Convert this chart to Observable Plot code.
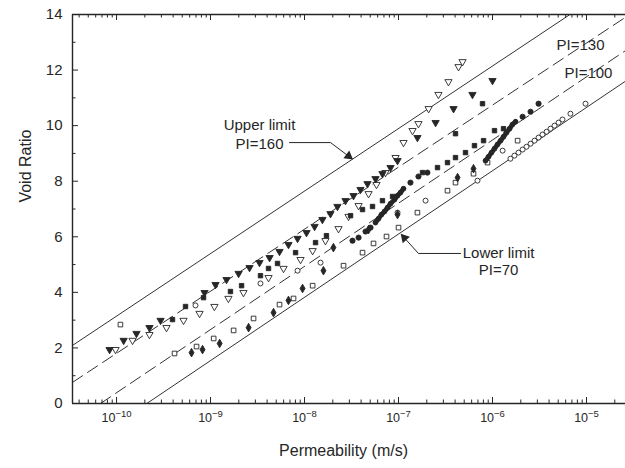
<!DOCTYPE html>
<html>
<head>
<meta charset="utf-8">
<script src="https://cdn.jsdelivr.net/npm/d3@7"></script>
<script src="https://cdn.jsdelivr.net/npm/@observablehq/plot@0.6"></script>
<style>
  html, body { margin: 0; padding: 0; background: #fff; }
  #chart { width: 625px; height: 468px; }
</style>
</head>
<body>
<div id="chart"></div>
<script>
// ---------------- data ----------------
// Permeability k (m/s) and void ratio e for each symbol series

// filled down-pointing triangles
const solidTriK = [8.43e-11,1.19e-10,1.63e-10,2.24e-10,2.94e-10,8.64e-10,1.13e-9,1.48e-9,1.99e-9,2.60e-9,3.32e-9,4.25e-9,5.42e-9,6.75e-9,8.43e-9,1.05e-8,1.28e-8,1.55e-8,1.89e-8,2.24e-8,2.73e-8,3.32e-8,3.94e-8,4.68e-8,5.69e-8,6.75e-8,8.22e-8,9.76e-8,1.59e-7,2.48e-7,3.85e-7,6.12e-7,1.00e-6];
const solidTriE = [1.94,2.27,2.52,2.73,2.99,3.99,4.28,4.46,4.68,4.89,5.07,5.25,5.47,5.72,5.94,6.15,6.37,6.62,6.83,7.09,7.30,7.48,7.70,7.91,8.09,8.27,8.49,8.74,9.57,10.11,10.61,11.12,11.62];

// open down-pointing triangles
const openTriK = [9.76e-11,1.48e-10,2.24e-10,3.40e-10,5.16e-10,7.64e-10,1.10e-9,1.55e-9,2.24e-9,4.14e-9,5.98e-9,9.07e-9,1.22e-8,1.67e-8,2.30e-8,2.94e-8,3.76e-8,4.80e-8,5.83e-8,7.27e-8,9.30e-8,1.13e-7,1.41e-7,1.63e-7,2.09e-7,2.66e-7,3.40e-7,4.35e-7,4.80e-7];
const openTriE = [1.94,2.27,2.48,2.73,2.99,3.24,3.49,3.78,3.99,4.53,4.86,5.18,5.50,5.86,6.29,6.73,7.12,7.55,7.88,8.31,8.85,9.39,9.82,10.07,10.61,11.12,11.58,12.12,12.30];

// filled squares
const solidSqK = [3.94e-10,5.42e-10,8.43e-10,1.63e-9,2.14e-9,3.40e-9,4.14e-9,5.16e-9,8.03e-9,1.31e-8,1.71e-8,3.09e-8,4.14e-8,5.29e-8,6.75e-8,8.64e-8,1.80e-7,2.60e-7,3.32e-7,4.04e-7,5.16e-7,6.43e-7,8.03e-7,1.05e-6,1.31e-6,4.04e-7,7.83e-7];
const solidSqE = [3.02,3.49,3.81,4.03,4.24,4.60,4.86,5.04,5.43,5.79,6.04,6.76,6.98,7.09,7.30,7.45,8.31,8.49,8.67,8.85,9.03,9.28,9.46,9.82,9.89,9.71,10.79];

// open circles
const openCircK = [6.92e-10,3.40e-9,8.43e-9,1.48e-8,9.76e-8,1.94e-7,6.92e-7,1.28e-6,1.55e-6,1.71e-6,1.89e-6,2.09e-6,2.30e-6,2.54e-6,2.80e-6,3.09e-6,3.40e-6,3.76e-6,4.14e-6,4.57e-6,5.04e-6,5.55e-6,6.75e-6,9.76e-6];
const openCircE = [3.53,4.32,4.78,5.07,6.87,7.30,8.02,9.10,8.81,8.92,9.03,9.14,9.24,9.35,9.46,9.57,9.68,9.78,9.89,10.00,10.11,10.22,10.43,10.79];

// open squares
const openSqK = [1.10e-10,4.14e-10,7.10e-10,1.08e-9,1.76e-9,2.87e-9,5.42e-9,7.64e-9,1.22e-8,2.60e-8,4.14e-8,5.42e-8,7.45e-8,1.00e-7,1.59e-7,3.32e-7,4.04e-7,6.28e-7,8.85e-7,1.85e-6];
const openSqE = [2.84,1.80,2.05,2.34,2.63,3.06,3.56,3.78,4.24,4.96,5.43,5.76,6.01,6.33,6.87,7.66,7.95,8.27,8.67,9.46];

// filled diamonds
const solidDiaK = [6.28e-10,8.22e-10,1.25e-9,2.54e-9,4.68e-9,6.75e-9,9.53e-9,1.59e-8,2.03e-8,4.80e-8,9.76e-8,4.25e-7,6.28e-7];
const solidDiaE = [1.83,1.94,2.16,2.73,3.27,3.71,4.14,4.78,5.61,6.26,6.80,8.13,8.45];

// filled circles (isolated readings)
const solidCircK = [3.24e-8,3.76e-8,4.46e-8,5.04e-8,1.34e-7,1.63e-7,2.03e-7,2.09e-6,2.54e-6,3.09e-6];
const solidCircE = [5.86,5.97,6.19,6.33,7.95,8.17,8.31,10.32,10.50,10.79];

// densely sampled tests that print as thick traces
const trace1K = [5.69e-8,6.12e-8,6.59e-8,7.10e-8,7.64e-8,8.22e-8,9.07e-8,9.76e-8,1.05e-7,1.13e-7];
const trace1E = [6.51,6.65,6.80,6.91,7.05,7.19,7.34,7.48,7.59,7.73];
const trace2K = [8.43e-7,9.07e-7,9.76e-7,1.05e-6,1.13e-6,1.22e-6,1.31e-6,1.41e-6,1.52e-6,1.63e-6,1.76e-6];
const trace2E = [8.74,8.88,9.03,9.17,9.32,9.46,9.60,9.75,9.89,10.04,10.14];

// boundary lines (end points)
const upperLimitK = [3.4e-11, 2.6e-5], upperLimitE = [2.09, 15.33];
const pi130K = [3.4e-11, 2.6e-5],      pi130E = [0.76, 13.9];
const pi100K = [6.76e-11, 2.6e-5],     pi100E = [0, 12.7];
const lowerLimitK = [2.1e-10, 2.6e-5], lowerLimitE = [0, 11.6];

// tick labels
const xMajor = [1e-10, 1e-9, 1e-8, 1e-7, 1e-6, 1e-5];
const xExpLabels = ["\u221210", "\u22129", "\u22128", "\u22127", "\u22126", "\u22125"];
const yMajor = [0, 2, 4, 6, 8, 10, 12, 14];
const yMinor = [1, 3, 5, 7, 9, 11, 13];

// annotations
const noteText = ["Upper limit", "PI=160", "PI=130", "PI=100", "Lower limit", "PI=70"];
const noteK = [3.32e-9, 3.32e-9, 8.64e-6, 1.05e-5, 1.16e-6, 1.16e-6];
const noteE = [10.0, 9.35, 12.88, 11.87, 5.40, 4.78];
const upperArrowK = [6.92e-9, 1.89e-8, 3.09e-8], upperArrowE = [9.39, 9.39, 8.85];
const lowerArrowK = [4.57e-7, 1.63e-7, 1.10e-7], lowerArrowE = [5.40, 5.40, 6.04];

// ---------------- build ----------------
const W = 625, H = 468;
const mL = 72, mR = 0, mT = 14, mB = 65;
const plotW = W - mL - mR, plotH = H - mT - mB;
const xDomain = [3.4e-11, 2.6e-5];
const ink = "#262626";
const font = "'Liberation Sans', Arial, Helvetica, sans-serif";
const mk = (K, E) => K.map((k, i) => ({k, e: E[i]}));

const xMinor = [];
for (let p = -11; p <= -5; p++) {
  for (let m = 2; m <= 9; m++) {
    const v = m * Math.pow(10, p);
    if (v > xDomain[0] && v < xDomain[1]) xMinor.push(v);
  }
}

const dotBase = {x: "k", y: "e", stroke: ink, strokeWidth: 0.9};

const marks = [
  // boundary lines
  Plot.line(mk(upperLimitK, upperLimitE), {x: "k", y: "e", stroke: "#333", strokeWidth: 1, clip: true}),
  Plot.line(mk(pi130K, pi130E), {x: "k", y: "e", stroke: "#333", strokeWidth: 1, strokeDasharray: "12,6", clip: true}),
  Plot.line(mk(pi100K, pi100E), {x: "k", y: "e", stroke: "#333", strokeWidth: 1, strokeDasharray: "12,6", clip: true}),
  Plot.line(mk(lowerLimitK, lowerLimitE), {x: "k", y: "e", stroke: "#333", strokeWidth: 1, clip: true}),

  // frame (left, bottom, top)
  Plot.ruleY([0, 14], {stroke: ink, strokeWidth: 1.4}),
  Plot.ruleX([xDomain[0]], {stroke: ink, strokeWidth: 1.4}),

  // inward ticks
  Plot.tickX(xMajor, {x: d => d, insetTop: plotH - 6, stroke: ink}),
  Plot.tickX(xMinor, {x: d => d, insetTop: plotH - 3.5, stroke: ink}),
  Plot.tickX(xMajor, {x: d => d, insetBottom: plotH - 6, stroke: ink}),
  Plot.tickX(xMinor, {x: d => d, insetBottom: plotH - 3.5, stroke: ink}),
  Plot.tickY(yMajor, {y: d => d, insetRight: plotW - 6, stroke: ink}),
  Plot.tickY(yMinor, {y: d => d, insetRight: plotW - 3.5, stroke: ink}),

  // y tick labels
  Plot.text(yMajor, {y: d => d, frameAnchor: "left", dx: -10, textAnchor: "end", text: d => String(d), fontSize: 15, fill: ink}),

  // axis titles
  Plot.text(["Void Ratio"], {frameAnchor: "left", y: 7.23, dx: -47, rotate: -90, text: d => d, fontSize: 16, fill: ink}),
  Plot.text(["Permeability (m/s)"], {frameAnchor: "bottom", x: 2.6e-8, dy: 52, text: d => d, fontSize: 16, fill: ink}),

  // data
  Plot.dot(mk(openTriK, openTriE), {...dotBase, symbol: "triangle", r: 2.7, rotate: 180, fill: "white"}),
  Plot.dot(mk(solidTriK, solidTriE), {...dotBase, symbol: "triangle", r: 2.7, rotate: 180, fill: ink}),
  Plot.dot(mk(openSqK, openSqE), {...dotBase, symbol: "square", r: 2.6, fill: "white"}),
  Plot.dot(mk(openCircK, openCircE), {...dotBase, symbol: "circle", r: 2.5, fill: "white"}),
  Plot.dot(mk(solidSqK, solidSqE), {...dotBase, symbol: "square", r: 2.5, fill: ink}),
  Plot.dot(mk(solidDiaK, solidDiaE), {...dotBase, symbol: "diamond", r: 2.6, fill: ink}),
  Plot.dot(mk(solidCircK, solidCircE), {...dotBase, symbol: "circle", r: 2.6, fill: ink}),
  Plot.line(mk(trace1K, trace1E), {x: "k", y: "e", stroke: ink, strokeWidth: 4.6, strokeLinecap: "round"}),
  Plot.line(mk(trace2K, trace2E), {x: "k", y: "e", stroke: ink, strokeWidth: 4.6, strokeLinecap: "round"}),
  Plot.dot(mk(trace1K, trace1E), {...dotBase, symbol: "circle", r: 2.4, fill: ink}),
  Plot.dot(mk(trace2K, trace2E), {...dotBase, symbol: "circle", r: 2.4, fill: ink}),

  // annotations
  Plot.text(mk(noteK, noteE).map((d, i) => ({...d, t: noteText[i]})), {x: "k", y: "e", text: "t", fontSize: 15, fill: ink}),
  Plot.line(mk(upperArrowK, upperArrowE), {x: "k", y: "e", stroke: ink, strokeWidth: 1}),
  Plot.line(mk(lowerArrowK, lowerArrowE), {x: "k", y: "e", stroke: ink, strokeWidth: 1}),
  Plot.dot([{k: upperArrowK[2], e: upperArrowE[2]}], {x: "k", y: "e", symbol: "triangle", r: 3.6, rotate: 127, fill: ink, dx: -2, dy: -1.5}),
  Plot.dot([{k: lowerArrowK[2], e: lowerArrowE[2]}], {x: "k", y: "e", symbol: "triangle", r: 3.6, rotate: -42, fill: ink, dx: 2, dy: 2.2})
];

// x tick labels: "10" with raised exponent
const baseSize = 12.5, expSize = 9.5;
xMajor.forEach((v, i) => {
  const wBase = 1.112 * baseSize;
  const wExp = (0.584 + 0.556 * (xExpLabels[i].length - 1)) * expSize;
  const start = -(wBase + wExp) / 2;
  marks.push(Plot.text([v], {x: d => d, frameAnchor: "bottom", text: () => "10", textAnchor: "start", dx: start, dy: 18, fontSize: baseSize, fill: ink}));
  marks.push(Plot.text([v], {x: d => d, frameAnchor: "bottom", text: () => xExpLabels[i], textAnchor: "start", dx: start + wBase, dy: 13.5, fontSize: expSize, fill: ink}));
});

const chart = Plot.plot({
  width: W,
  height: H,
  marginLeft: mL,
  marginRight: mR,
  marginTop: mT,
  marginBottom: mB,
  x: {type: "log", domain: xDomain, axis: null},
  y: {domain: [0, 14], axis: null},
  style: {background: "white", color: ink, fontFamily: font, overflow: "visible"},
  marks
});
document.getElementById("chart").appendChild(chart);
</script>
</body>
</html>
